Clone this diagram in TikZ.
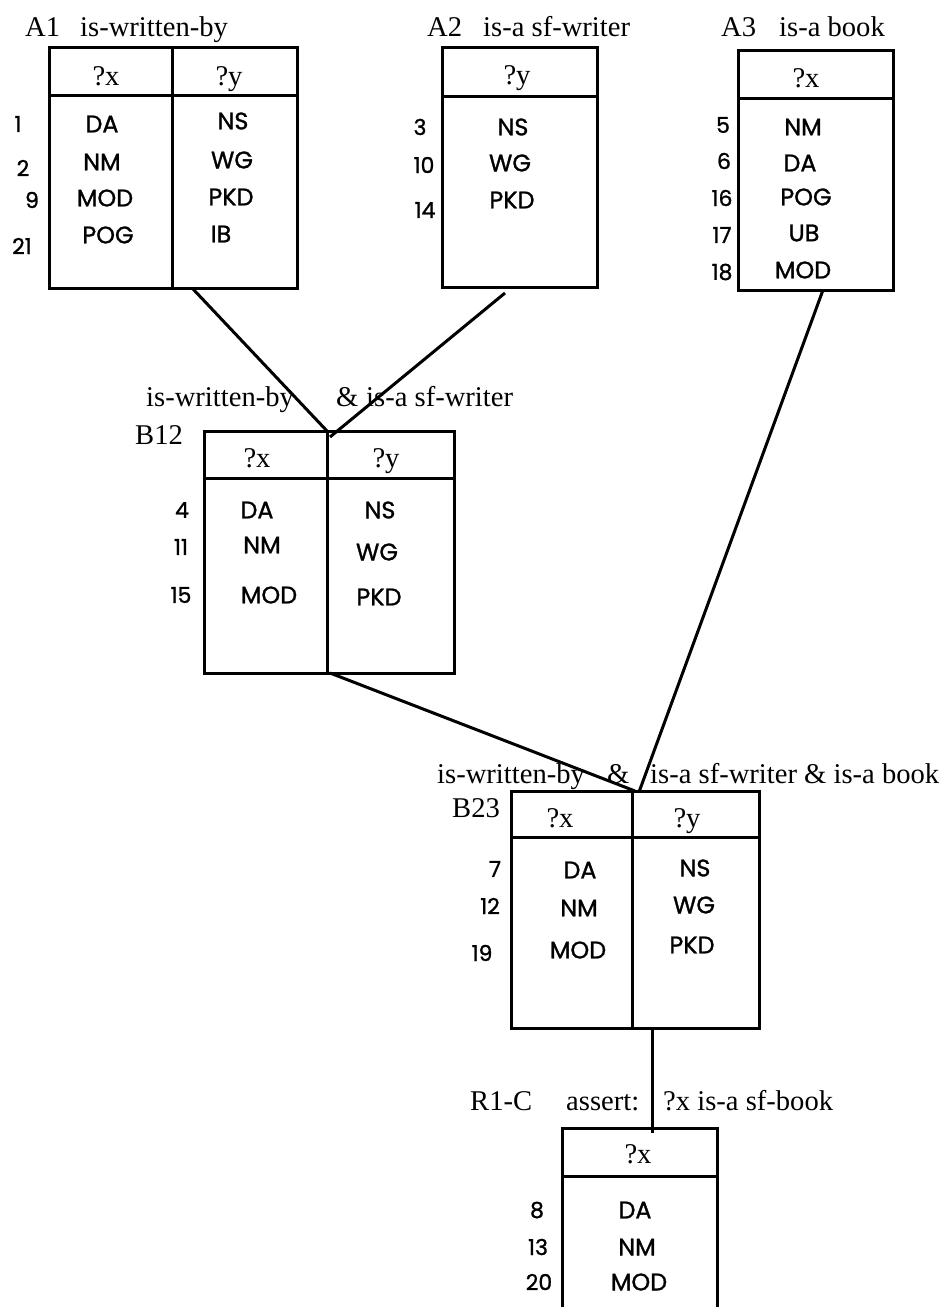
\documentclass[tikz,border=0pt]{standalone}
\usepackage{fontspec}
\setmainfont{Liberation Serif}
\newfontfamily\handfont[FakeBold=1.2]{Poppins}
\newcommand\ttlfont{\fontsize{28.7}{30}\selectfont}
\newcommand\handtext{\handfont\fontsize{24}{26}\selectfont}
\newcommand\handnum{\handfont\fontsize{22}{24}\selectfont}
\tikzset{
  tbl/.style={draw, line width=3bp, inner sep=0pt, outer sep=0pt, anchor=north west},
  rule/.style={line width=3bp},
  wire/.style={line width=3bp},
  ttl/.style={font=\ttlfont, anchor=base west, inner sep=0pt},
  hdr/.style={font=\ttlfont, anchor=base, inner sep=0pt},
  hw/.style={font=\handtext, inner sep=0pt},
  num/.style={font=\handnum, inner sep=0pt},
}
\begin{document}
\begin{tikzpicture}[x=1bp, y=-1bp]
\useasboundingbox (0,0) rectangle (948,1307);
\fill[white] (0,0) rectangle (948,1307);
\clip (0,0) rectangle (948,1307);

% ---------- A1: is-written-by ----------
\node[ttl] (a1id) at (25,37) {A1};
\node[ttl] (a1name) at (80,37) {is-written-by};
\node[tbl, minimum width=248bp, minimum height=240bp] (A1) at (49,48) {};
\draw[rule] (172,48) -- (172,288);
\draw[rule] (49,96) -- (297,96);
\node[hdr] (a1hx) at (106,86) {?x};
\node[hdr] (a1hy) at (229,86) {?y};
\node[num] (a1n1) at (18,124) {1};
\node[num] (a1n2) at (23,168) {2};
\node[num] (a1n9) at (32,200) {9};
\node[num] (a1n21) at (22,246) {21};
\node[hw] (a1x1) at (102,124) {DA};
\node[hw] (a1x2) at (102,162) {NM};
\node[hw] (a1x3) at (105,198) {MOD};
\node[hw] (a1x4) at (108,235) {POG};
\node[hw] (a1y1) at (233,121) {NS};
\node[hw] (a1y2) at (232,160) {WG};
\node[hw] (a1y3) at (231,197) {PKD};
\node[hw] (a1y4) at (221,234) {IB};
\coordinate (A1out) at (193,289);

% ---------- A2: is-a sf-writer ----------
\node[ttl] (a2id) at (427,37) {A2};
\node[ttl] (a2name) at (483,37) {is-a sf-writer};
\node[tbl, minimum width=155bp, minimum height=239bp] (A2) at (442,48) {};
\draw[rule] (442,97) -- (597,97);
\node[hdr] (a2hy) at (517,85) {?y};
\node[num] (a2n3) at (420,127) {3};
\node[num] (a2n10) at (424,165) {10};
\node[num] (a2n14) at (425,210) {14};
\node[hw] (a2y1) at (513,127) {NS};
\node[hw] (a2y2) at (510,163) {WG};
\node[hw] (a2y3) at (512,200) {PKD};
\coordinate (A2out) at (505,293);

% ---------- A3: is-a book ----------
\node[ttl] (a3id) at (721,37) {A3};
\node[ttl] (a3name) at (779,37) {is-a book};
\node[tbl, minimum width=155bp, minimum height=239bp] (A3) at (738,51) {};
\draw[rule] (738,99) -- (893,99);
\node[hdr] (a3hx) at (806,88) {?x};
\node[num] (a3n5) at (723,125) {5};
\node[num] (a3n6) at (724,161) {6};
\node[num] (a3n16) at (722,198) {16};
\node[num] (a3n17) at (722,235) {17};
\node[num] (a3n18) at (722,272) {18};
\node[hw] (a3x1) at (803,127) {NM};
\node[hw] (a3x2) at (800,163) {DA};
\node[hw] (a3x3) at (806,197) {POG};
\node[hw] (a3x4) at (804,233) {UB};
\node[hw] (a3x5) at (803,270) {MOD};
\coordinate (A3out) at (823,290);

% ---------- B12 ----------
\node[ttl] (b12t1) at (146,406) {is-written-by};
\node[ttl] (b12t2) at (336,406) {\&};
\node[ttl] (b12t3) at (366,406) {is-a sf-writer};
\node[ttl] (b12id) at (135,444) {B12};
\node[tbl, minimum width=250bp, minimum height=242bp] (B12) at (204,431) {};
\draw[rule] (327,431) -- (327,673);
\draw[rule] (204,478) -- (454,478);
\node[hdr] (b12hx) at (257,467) {?x};
\node[hdr] (b12hy) at (386,467) {?y};
\node[num] (b12n4) at (182,510) {4};
\node[num] (b12n11) at (181,547) {11};
\node[num] (b12n15) at (181,595) {15};
\node[hw] (b12x1) at (257,510) {DA};
\node[hw] (b12x2) at (262,545) {NM};
\node[hw] (b12x3) at (269,595) {MOD};
\node[hw] (b12y1) at (380,510) {NS};
\node[hw] (b12y2) at (377,552) {WG};
\node[hw] (b12y3) at (379,597) {PKD};
\coordinate (B12inL) at (327,431);
\coordinate (B12inR) at (330,437);
\coordinate (B12out) at (330,673);

% ---------- B23 ----------
\node[ttl] (b23t1) at (437,783) {is-written-by};
\node[ttl] (b23t2) at (607,783) {\&};
\node[ttl] (b23t3) at (650,783) {is-a sf-writer \& is-a book};
\node[ttl] (b23id) at (452,817) {B23};
\node[tbl, minimum width=248bp, minimum height=237bp] (B23) at (511,791) {};
\draw[rule] (632,791) -- (632,1028);
\draw[rule] (511,837) -- (759,837);
\node[hdr] (b23hx) at (560,827) {?x};
\node[hdr] (b23hy) at (687,827) {?y};
\node[num] (b23n7) at (495,869) {7};
\node[num] (b23n12) at (490,906) {12};
\node[num] (b23n19) at (482,953) {19};
\node[hw] (b23x1) at (580,870) {DA};
\node[hw] (b23x2) at (579,908) {NM};
\node[hw] (b23x3) at (578,950) {MOD};
\node[hw] (b23y1) at (695,868) {NS};
\node[hw] (b23y2) at (694,905) {WG};
\node[hw] (b23y3) at (692,945) {PKD};
\coordinate (B23inL) at (635,791);
\coordinate (B23inR) at (639,792);
\coordinate (B23out) at (652,1030);

% ---------- R1-C ----------
\node[ttl] (r1id) at (470,1110) {R1-C};
\node[ttl] (r1act) at (566,1110) {assert:};
\node[ttl] (r1txt) at (663,1110) {?x is-a sf-book};
\node[tbl, minimum width=155bp, minimum height=200bp] (R1) at (562,1128) {};
\draw[rule] (562,1176) -- (717,1176);
\node[hdr] (r1hx) at (638,1163) {?x};
\node[num] (r1n8) at (537,1210) {8};
\node[num] (r1n13) at (538,1247) {13};
\node[num] (r1n20) at (539,1282) {20};
\node[hw] (r1x1) at (635,1210) {DA};
\node[hw] (r1x2) at (637,1247) {NM};
\node[hw] (r1x3) at (639,1282) {MOD};
\coordinate (R1in) at (652,1133);

% ---------- connectors ----------
\draw[wire] (A1out) -- (B12inL);
\draw[wire] (A2out) -- (B12inR);
\draw[wire] (B12out) -- (B23inL);
\draw[wire] (A3out) -- (B23inR);
\draw[wire] (B23out) -- (R1in);
\end{tikzpicture}
\end{document}
